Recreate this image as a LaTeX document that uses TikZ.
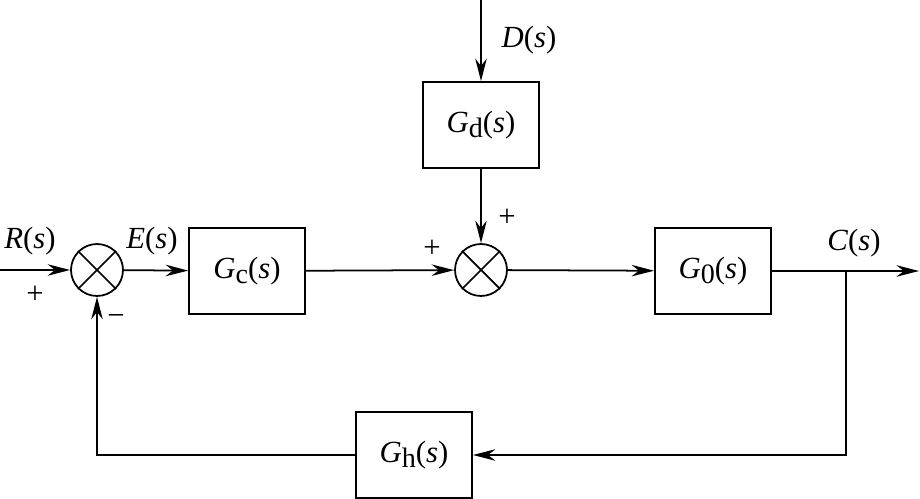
\documentclass[tikz,border=0pt]{standalone}
\usepackage{fontspec}
\setmainfont{Liberation Serif}
\usetikzlibrary{arrows.meta}
\newcommand{\tfG}[1]{\textit{G}\raisebox{-3pt}{\fontsize{16}{18}\selectfont #1}(\textit{s})}
\newcommand{\sig}[1]{\textit{#1}(\textit{s})}

\begin{document}
\begin{tikzpicture}[
  x=0.02cm,
  y=-0.02cm,
  every node/.style={font=\fontsize{17.5}{20}\selectfont},
  block/.style={draw, line width=1pt, minimum width=2.32cm,
                minimum height=1.72cm, inner sep=0pt},
  sumnode/.style={draw, circle, line width=1pt, minimum size=1.04cm,
                  inner sep=0pt},
  wire/.style={line width=1pt},
  link/.style={line width=1pt, -{Stealth[length=4.5mm, width=2.3mm]}}
]
  \useasboundingbox (0,0) rectangle (920,499);

  %% ---- blocks and summing points -----------------------------------------
  \node[sumnode] (s1) at (97,270) {};
  \node[block]   (gc) at (247,271) {\tfG{c}};
  \node[sumnode] (s2) at (481,270) {};
  \node[block]   (gd) at (481,125) {\tfG{d}};
  \node[block]   (g0) at (713,271) {\tfG{0}};
  \node[block]   (gh) at (414,455) {\tfG{h}};

  \draw[wire] (s1.north west) -- (s1.south east)
              (s1.north east) -- (s1.south west);
  \draw[wire] (s2.north west) -- (s2.south east)
              (s2.north east) -- (s2.south west);

  %% ---- free ends ---------------------------------------------------------
  \coordinate (rin)    at (0,270);
  \coordinate (cout)   at (919,271);
  \coordinate (dtop)   at (481,0);
  \coordinate (branch) at (846,271);

  %% ---- connectors --------------------------------------------------------
  \draw[link] (rin) -- (s1);
  \draw[link] (s1) -- (gc);
  \draw[link] (gc) -- (s2);
  \draw[link] (s2) -- (g0);
  \draw[link] (g0) -- (cout);
  \draw[link] (dtop) -- (gd);
  \draw[link] (gd) -- (s2);
  \draw[link] (branch) |- (gh);
  \draw[link] (gh) -| (s1);

  %% ---- signal labels and signs -------------------------------------------
  \node (rlab)    at (30,241)  {\sig{R}};
  \node (rplus)   at (35,295)  {+};
  \node (elab)    at (152,241) {\sig{E}};
  \node (fbminus) at (116,320) {−};
  \node (s2left)  at (432,249) {+};
  \node (s2top)   at (507,218) {+};
  \node (dlab)    at (529,40)  {\sig{D}};
  \node (clab)    at (854,243) {\sig{C}};
\end{tikzpicture}
\end{document}
